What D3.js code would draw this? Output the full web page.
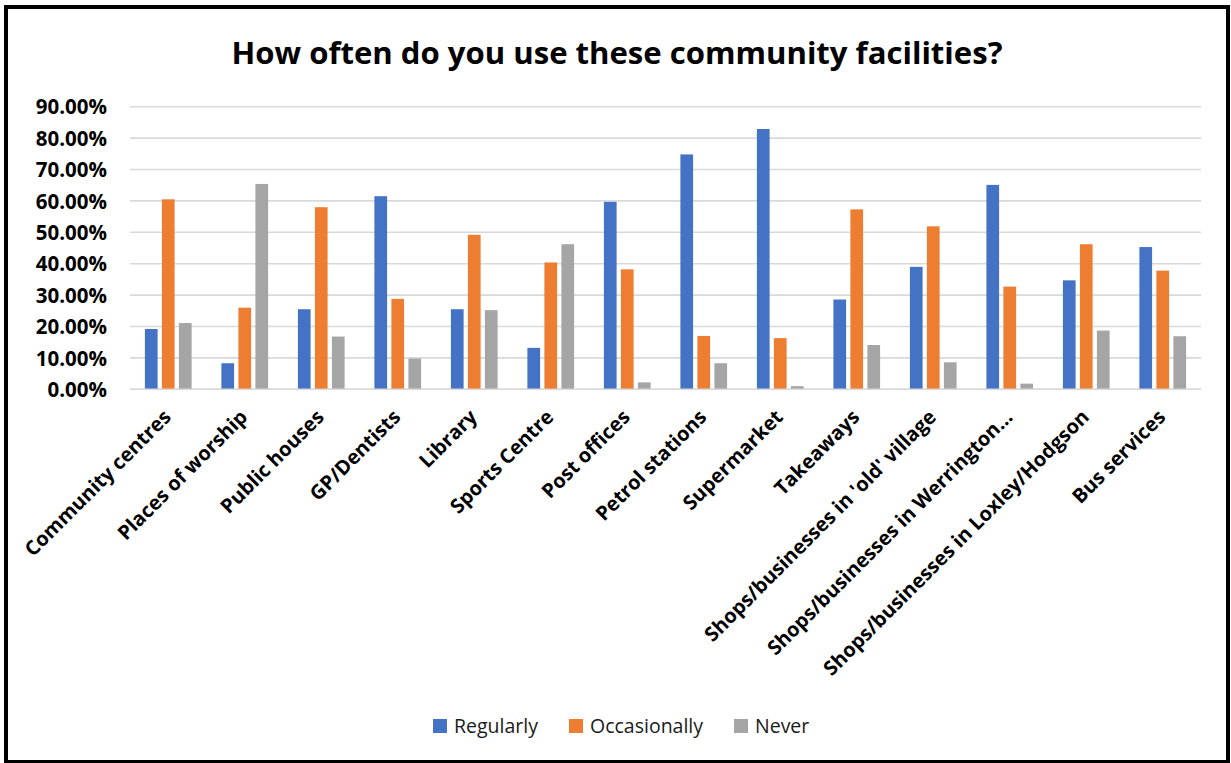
<!DOCTYPE html>
<html>
<head>
<meta charset="utf-8">
<script src="https://cdn.jsdelivr.net/npm/d3@7"></script>
<style>
  html, body { margin: 0; padding: 0; background: #fff; }
  svg { display: block; }
</style>
</head>
<body>
<svg id="chart" width="1231" height="763"></svg>
<script>
const title = "How often do you use these community facilities?";
const categories = [
  "Community centres", "Places of worship", "Public houses", "GP/Dentists",
  "Library", "Sports Centre", "Post offices", "Petrol stations", "Supermarket",
  "Takeaways", "Shops/businesses in 'old' village", "Shops/businesses in Werrington\u2026",
  "Shops/businesses in Loxley/Hodgson", "Bus services"
];
const seriesNames = ["Regularly", "Occasionally", "Never"];
const regularly    = [19.2, 8.3, 25.5, 61.5, 25.5, 13.2, 59.7, 74.8, 82.9, 28.6, 39.0, 65.1, 34.7, 45.3];
const occasionally = [60.5, 26.0, 58.0, 28.8, 49.2, 40.4, 38.2, 17.0, 16.3, 57.3, 51.9, 32.7, 46.2, 37.8];
const never        = [21.1, 65.4, 16.8, 9.8, 25.2, 46.2, 2.2, 8.3, 1.0, 14.1, 8.6, 1.8, 18.7, 16.9];
const yTicks = [0, 10, 20, 30, 40, 50, 60, 70, 80, 90];
const colors = ["#4472C4", "#ED7D31", "#A5A5A5"];

(function () {
const seriesValues = [regularly, occasionally, never];
const svg = d3.select("#chart");
const FONT = "'Open Sans', 'Liberation Sans', sans-serif";

// outer frame
svg.append("rect").attr("x", 6).attr("y", 7).attr("width", 1222).attr("height", 755)
  .attr("fill", "#fff").attr("stroke", "#000").attr("stroke-width", 4);

// title
svg.append("text").attr("x", 617).attr("y", 64).attr("text-anchor", "middle")
  .attr("font-family", FONT).attr("font-weight", "bold").attr("font-size", 31)
  .attr("textLength", 771).attr("lengthAdjust", "spacingAndGlyphs")
  .attr("fill", "#000").text(title);

const pLeft = 130, pRight = 1201, pTop = 106.7, pBottom = 389.3;
const x0 = d3.scaleBand().domain(categories).range([pLeft, pRight]).padding(0);
const cw = x0.bandwidth();
const x1 = d3.scaleBand().domain(seriesNames)
  .range([cw / 2 - 23.35, cw / 2 + 23.35]).paddingInner(0.253).paddingOuter(0);
const y = d3.scaleLinear().domain([0, 90]).range([pBottom, pTop]);

// gridlines
svg.append("g").selectAll("line").data(yTicks).join("line")
  .attr("x1", pLeft).attr("x2", pRight)
  .attr("y1", d => y(d)).attr("y2", d => y(d))
  .attr("stroke", "#d9d9d9").attr("stroke-width", 1.6);

// y axis labels
const yAxis = d3.axisLeft(y).tickValues(yTicks).tickSize(0).tickPadding(0)
  .tickFormat(d => d.toFixed(2) + "%");
const gy = svg.append("g").attr("transform", `translate(107,0)`).call(yAxis);
gy.select(".domain").remove();
gy.selectAll("text").attr("font-family", FONT).attr("font-weight", "bold")
  .attr("font-size", 20.5).attr("fill", "#000").attr("dy", "0.35em");

// bars
const groups = svg.append("g").selectAll("g").data(categories).join("g")
  .attr("transform", d => `translate(${x0(d)},0)`);
groups.selectAll("rect")
  .data((d, i) => seriesNames.map((s, k) => ({ s, k, v: seriesValues[k][i] })))
  .join("rect")
  .attr("x", d => x1(d.s))
  .attr("width", x1.bandwidth())
  .attr("y", d => y(d.v))
  .attr("height", d => y(0) - y(d.v))
  .attr("fill", d => colors[d.k]);

// x axis baseline
svg.append("line").attr("x1", pLeft).attr("x2", pRight).attr("y1", pBottom).attr("y2", pBottom)
  .attr("stroke", "#d9d9d9").attr("stroke-width", 1.6);

// x axis labels
const xAxis = d3.axisBottom(x0).tickSize(0).tickPadding(0);
const gx = svg.append("g").attr("transform", `translate(0,${pBottom})`).call(xAxis);
gx.select(".domain").remove();
gx.selectAll("text")
  .attr("font-family", FONT).attr("font-weight", "bold").attr("font-size", 20)
  .attr("fill", "#000")
  .attr("text-anchor", "end")
  .attr("dy", null)
  .attr("y", 0)
  .attr("transform", "translate(4,29) rotate(-45)");

// legend
const legendX = [433, 569, 734];
const legend = svg.append("g").selectAll("g").data(seriesNames).join("g")
  .attr("transform", (d, i) => `translate(${legendX[i]},719)`);
legend.append("rect").attr("width", 14).attr("height", 14).attr("fill", (d, i) => colors[i]);
legend.append("text").attr("x", 21).attr("y", 7).attr("dy", "0.35em")
  .attr("font-family", FONT).attr("font-size", 19.5).attr("fill", "#1a1a1a").text(d => d);
})();
</script>
</body>
</html>
